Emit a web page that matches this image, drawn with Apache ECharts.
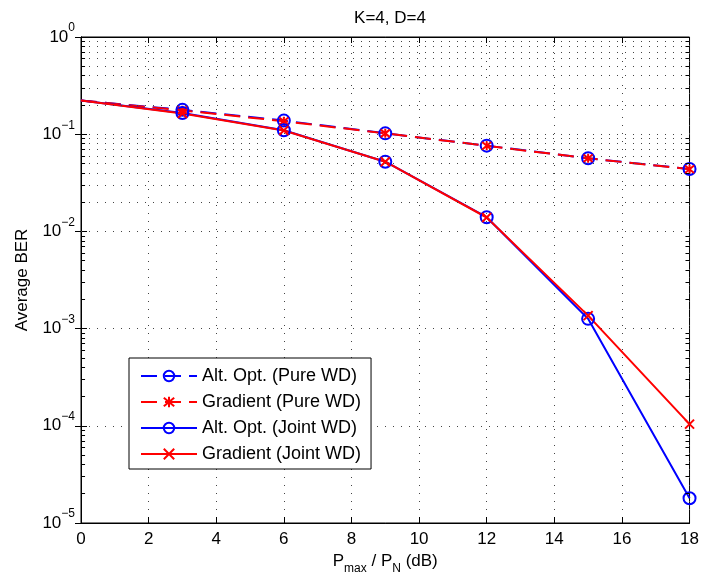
<!DOCTYPE html>
<html>
<head>
<meta charset="utf-8">
<script src="https://cdn.jsdelivr.net/npm/echarts@6/dist/echarts.min.js"></script>
<style>
html,body{margin:0;padding:0;background:#fff;}
#chart{width:702px;height:583px;}
</style>
</head>
<body>
<div id="chart"></div>
<script>
// ---- data ----
const xValues = [0, 3, 6, 9, 12, 15, 18];
const altOptPure = [0.222, 0.178, 0.138, 0.102, 0.0762, 0.0565, 0.0439];
const gradientPure = [0.222, 0.176, 0.136, 0.102, 0.0760, 0.0565, 0.0437];
const altOptJoint = [0.222, 0.165, 0.110, 0.0521, 0.0140, 0.00126, 0.000018];
const gradientJoint = [0.222, 0.163, 0.109, 0.0521, 0.0139, 0.00136, 0.000104];
const seriesNames = ['Alt. Opt. (Pure WD)', 'Gradient (Pure WD)', 'Alt. Opt. (Joint WD)', 'Gradient (Joint WD)'];
const xTicks = [0, 2, 4, 6, 8, 10, 12, 14, 16, 18];
const yDecadeExponents = [-5, -4, -3, -2, -1, 0];
const titleText = 'K=4, D=4';
const yAxisTitle = 'Average BER';

// ---- helpers ----
const FONT = 'Liberation Sans';
const BLUE = '#0000ff';
const RED = '#ff0000';
const GRID_DOT = { color: '#444', width: 1, type: [1, 7] };

function toData(ys) {
  return xValues.map((x, i) => i === 0 ? { value: [x, ys[i]], symbol: 'none' } : [x, ys[i]]);
}

// minor (2..9 x decade) values for the log grid
const minorVals = [];
for (let k = 0; k < yDecadeExponents.length - 1; k++) {
  const base = Math.pow(10, yDecadeExponents[k]);
  for (let m = 2; m <= 9; m++) minorVals.push(m * base);
}
const xMin = xTicks[0], xMax = xTicks[xTicks.length - 1];
const tickLen = 0.12;
const gridMarks = minorVals.map(v => ({ yAxis: v }));
const tickMarks = [];
minorVals.forEach(v => {
  tickMarks.push([{ coord: [xMin, v] }, { coord: [xMin + tickLen, v] }]);
  tickMarks.push([{ coord: [xMax - tickLen, v] }, { coord: [xMax, v] }]);
});

const xSym = 'path://M0,0L10,10M10,0L0,10';
const starSym = 'path://M0,0L10,10M10,0L0,10M5,-1L5,11';

function yLabel(v) {
  const e = Math.round(Math.log10(v));
  return '{b|10}{s|' + (e === 0 ? '0' : '\u2212' + (-e)) + '}';
}

const chart = echarts.init(document.getElementById('chart'), null, { renderer: 'canvas' });

const labelRich = {
  b: { fontFamily: FONT, fontSize: 17, color: '#000', lineHeight: 30, verticalAlign: 'middle' },
  s: { fontFamily: FONT, fontSize: 12, color: '#000', lineHeight: 10, verticalAlign: 'top' }
};

const option = {
  backgroundColor: '#fff',
  animation: false,
  title: {
    text: titleText,
    left: 385,
    top: 5,
    textAlign: 'center',
    textStyle: { fontFamily: FONT, fontSize: 17, fontWeight: 'normal', color: '#000' }
  },
  grid: {
    left: 81, right: 12, top: 37, bottom: 60,
    show: true, borderColor: '#000', borderWidth: 1, backgroundColor: '#fff'
  },
  legend: {
    orient: 'vertical',
    left: 129, top: 358,
    data: seriesNames,
    itemWidth: 56, itemHeight: 13, itemGap: 8,
    padding: [9, 10, 6, 11],
    borderColor: '#000', borderWidth: 1, backgroundColor: '#fff',
    textStyle: { fontFamily: FONT, fontSize: 18, color: '#000', lineHeight: 18 },
    selectedMode: false
  },
  xAxis: [{
    type: 'value', min: xMin, max: xMax, interval: 2,
    axisLine: { show: true, lineStyle: { color: '#000', width: 1 } },
    axisTick: { show: true, inside: true, length: 6, lineStyle: { color: '#000' } },
    axisLabel: { fontFamily: FONT, fontSize: 17, color: '#000', margin: 8 },
    splitLine: { show: true, lineStyle: GRID_DOT },
    name: '{n|P}{sub|max}{n| / P}{sub|N}{n| (dB)}',
    nameLocation: 'middle', nameGap: 24,
    nameTextStyle: {
      rich: {
        n: { fontFamily: FONT, fontSize: 17, color: '#000', lineHeight: 26, verticalAlign: 'middle' },
        sub: { fontFamily: FONT, fontSize: 12, color: '#000', lineHeight: 10, verticalAlign: 'bottom' }
      }
    }
  }, {
    type: 'value', min: xMin, max: xMax, interval: 2, position: 'top',
    axisLine: { show: true, lineStyle: { color: '#000', width: 1 } },
    axisTick: { show: true, inside: true, length: 6, lineStyle: { color: '#000' } },
    axisLabel: { show: false }, splitLine: { show: false }
  }],
  yAxis: [{
    type: 'log', logBase: 10, min: Math.pow(10, yDecadeExponents[0]), max: Math.pow(10, yDecadeExponents[yDecadeExponents.length - 1]),
    axisLine: { show: true, lineStyle: { color: '#000', width: 1 } },
    axisTick: { show: true, inside: true, length: 6, lineStyle: { color: '#000' } },
    axisLabel: { formatter: yLabel, margin: 6, rich: labelRich },
    splitLine: { show: true, lineStyle: GRID_DOT },
    name: yAxisTitle, nameLocation: 'middle', nameGap: 50,
    nameTextStyle: { fontFamily: FONT, fontSize: 17, color: '#000' }
  }, {
    type: 'log', logBase: 10, min: Math.pow(10, yDecadeExponents[0]), max: Math.pow(10, yDecadeExponents[yDecadeExponents.length - 1]),
    position: 'right',
    axisLine: { show: true, lineStyle: { color: '#000', width: 1 } },
    axisTick: { show: true, inside: true, length: 6, lineStyle: { color: '#000' } },
    axisLabel: { show: false }, splitLine: { show: false }
  }],
  series: [
    {
      name: 'grid', type: 'line', data: [], z: 1, silent: true,
      markLine: {
        silent: true, symbol: 'none', animation: false,
        label: { show: false },
        lineStyle: GRID_DOT,
        emphasis: { disabled: true },
        data: gridMarks
      }
    },
    {
      name: 'ticks', type: 'line', data: [], z: 1, silent: true,
      markLine: {
        silent: true, symbol: 'none', animation: false,
        label: { show: false },
        lineStyle: { color: '#000', width: 1, type: 'solid' },
        emphasis: { disabled: true },
        data: tickMarks
      }
    },
    {
      name: seriesNames[0], type: 'line', z: 3, data: toData(altOptPure),
      symbol: 'circle', symbolSize: 12,
      lineStyle: { color: BLUE, width: 2, type: [16, 8] },
      itemStyle: { color: 'rgba(0,0,0,0)', borderColor: BLUE, borderWidth: 2 }
    },
    {
      name: seriesNames[1], type: 'line', z: 3, data: toData(gradientPure),
      symbol: starSym, symbolSize: 9,
      lineStyle: { color: RED, width: 2, type: [16, 8] },
      itemStyle: { color: RED, borderColor: RED, borderWidth: 2 }
    },
    {
      name: seriesNames[2], type: 'line', z: 3, data: toData(altOptJoint),
      symbol: 'circle', symbolSize: 12,
      lineStyle: { color: BLUE, width: 2 },
      itemStyle: { color: 'rgba(0,0,0,0)', borderColor: BLUE, borderWidth: 2 }
    },
    {
      name: seriesNames[3], type: 'line', z: 3, data: toData(gradientJoint),
      symbol: xSym, symbolSize: 9,
      lineStyle: { color: RED, width: 2 },
      itemStyle: { color: RED, borderColor: RED, borderWidth: 2 }
    }
  ]
};
chart.setOption(option);
</script>
</body>
</html>
